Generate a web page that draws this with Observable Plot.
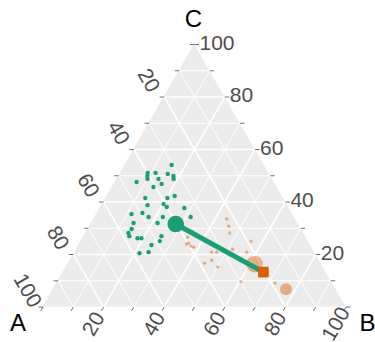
<!DOCTYPE html>
<html><head><meta charset="utf-8">
<script src="https://cdn.jsdelivr.net/npm/d3@7"></script>
<script src="https://cdn.jsdelivr.net/npm/@observablehq/plot@0.6"></script>
<style>body{margin:0;background:#fff}</style>
</head><body><div id="chart"></div>
<script>
// ---- data (percent compositions A, B, C) ----
const axisNames = ["A", "B", "C"];
const gridMinor = [10, 30, 50, 70, 90];
const gridMajor = [20, 40, 60, 80];
const tickValues = [0, 10, 20, 30, 40, 50, 60, 70, 80, 90, 100];
const tickLabels = [20, 40, 60, 80, 100];

const greenA = [30.5,39.9,40.6,41.1,37.3,33.5,32.0,32.5,37.5,45.3,37.4,40.7,45.5,35.4,38.2,46.1,40.6,40.1,34.5,34.1,49.3,53.1,48.0,43.3,54.1,46.2,55.9,57.7,58.0,55.7,54.4,47.4,48.9,52.4,54.7,57.9];
const greenB = [15.4,9.0,9.5,10.1,11.6,15.8,18.1,18.7,13.7,7.1,15.7,13.6,13.0,22.3,20.3,15.1,20.2,21.8,27.8,31.6,14.9,11.5,17.7,22.4,13.9,21.8,14.4,14.1,15.0,18.1,19.4,25.6,26.0,24.0,24.4,21.6];
const greenC = [54.1,51.1,49.9,48.8,51.1,50.7,49.9,48.8,48.8,47.6,46.9,45.7,41.5,42.3,41.5,38.8,39.2,38.1,37.7,34.3,35.8,35.4,34.3,34.3,32.0,32.0,29.7,28.2,27.0,26.2,26.2,27.0,25.1,23.6,20.9,20.5];

const orangeA = [22.6,23.3,24.3,18.8,39.0,40.6,39.8,39.7,38.9,32.6,26.4,22.3,33.9,32.2,35.4,38.3,34.7,29.9,18.9];
const orangeB = [43.9,45.9,47.5,56.1,34.4,35.4,35.9,37.1,38.3,42.7,51.6,56.8,45.2,46.9,46.8,45.0,50.1,60.5,72.0];
const orangeC = [33.5,30.8,28.2,25.1,26.6,24.0,24.3,23.2,22.8,24.7,22.0,20.9,20.9,20.9,17.8,16.7,15.2,9.6,9.1];

const orangeBigA = [22.0];
const orangeBigB = [61.7];
const orangeBigC = [16.3];
const orangeMidA = [16.4];
const orangeMidB = [76.8];
const orangeMidC = [6.8];

const greenCentre = [40.4, 28.0, 31.6];
const orangeCentre = [20.6, 66.1, 13.3];

// ---- ternary projection ----
const H = Math.sqrt(3) / 2;
function proj(a, b, c) { const s = a + b + c; return {x: (b + c / 2) / s, y: (c / s) * H}; }

const tri = [proj(100,0,0), proj(0,0,100), proj(0,100,0)];

function gridLines(vals) {
  const out = [];
  for (const v of vals) {
    const p = [
      [proj(v, 100 - v, 0), proj(v, 0, 100 - v)],
      [proj(100 - v, v, 0), proj(0, v, 100 - v)],
      [proj(100 - v, 0, v), proj(0, 100 - v, v)]
    ];
    for (const [s, e] of p) out.push({x1: s.x, y1: s.y, x2: e.x, y2: e.y});
  }
  return out;
}

const L = 4.5 / 303;
const ticks = [];
for (const v of tickValues) {
  const pa = proj(v, 0, 100 - v);
  ticks.push({x1: pa.x, y1: pa.y, x2: pa.x - L, y2: pa.y});
  const pb = proj(100 - v, v, 0);
  ticks.push({x1: pb.x, y1: pb.y, x2: pb.x - 0.5 * L, y2: pb.y - H * L});
  const pc = proj(0, 100 - v, v);
  ticks.push({x1: pc.x, y1: pc.y, x2: pc.x + L, y2: pc.y});
}
const labA = tickLabels.map(v => ({...proj(v, 0, 100 - v), t: String(v)}));
const labB = tickLabels.map(v => ({...proj(100 - v, v, 0), t: String(v)}));
const labC = tickLabels.map(v => ({...proj(0, 100 - v, v), t: String(v)}));

const green = greenA.map((a, i) => proj(a, greenB[i], greenC[i]));
const orange = orangeA.map((a, i) => proj(a, orangeB[i], orangeC[i]));
const orangeBig = orangeBigA.map((a, i) => proj(a, orangeBigB[i], orangeBigC[i]));
const orangeMid = orangeMidA.map((a, i) => proj(a, orangeMidB[i], orangeMidC[i]));
const gc = proj(...greenCentre);
const oc = proj(...orangeCentre);

const GREEN = "#1B9E77", ORANGE = "#D95F02", TXT = "#4D4D4D";

const chart = Plot.plot({
  width: 375, height: 342,
  marginLeft: 42.5, marginRight: 29.5, marginTop: 44, marginBottom: 35.5,
  x: {domain: [0, 1], axis: null},
  y: {domain: [0, H], axis: null},
  style: {fontFamily: "'Liberation Sans', Arial, sans-serif", background: "white", overflow: "visible"},
  marks: [
    Plot.areaY(tri, {x: "x", y: "y", fill: "#EBEBEB"}),
    Plot.link(gridLines(gridMinor), {x1: "x1", y1: "y1", x2: "x2", y2: "y2", stroke: "white", strokeWidth: 1}),
    Plot.link(gridLines(gridMajor), {x1: "x1", y1: "y1", x2: "x2", y2: "y2", stroke: "white", strokeWidth: 1.6}),
    Plot.link(ticks, {x1: "x1", y1: "y1", x2: "x2", y2: "y2", stroke: "#333", strokeWidth: 0.7}),
    Plot.text(labA, {x: "x", y: "y", text: "t", rotate: 60, dx: -15.5, dy: -16.5, fontSize: 21, fill: TXT}),
    Plot.text(labB, {x: "x", y: "y", text: "t", rotate: -60, dx: -10, dy: 17, fontSize: 21, fill: TXT}),
    Plot.text(labC, {x: "x", y: "y", text: "t", textAnchor: "start", dx: 5, dy: -1.5, fontSize: 21, fill: TXT}),
    Plot.text([proj(100,0,0)], {x: "x", y: "y", text: () => axisNames[0], dx: -25, dy: 16.5, fontSize: 24, fill: "black"}),
    Plot.text([proj(0,100,0)], {x: "x", y: "y", text: () => axisNames[1], dx: 21.5, dy: 16.5, fontSize: 24, fill: "black"}),
    Plot.text([proj(0,0,100)], {x: "x", y: "y", text: () => axisNames[2], dx: -1, dy: -25, fontSize: 24, fill: "black"}),
    Plot.dot(orange, {x: "x", y: "y", r: 1.7, fill: ORANGE, fillOpacity: 0.45}),
    Plot.dot(orangeBig, {x: "x", y: "y", r: 8.3, fill: ORANGE, fillOpacity: 0.45}),
    Plot.dot(orangeMid, {x: "x", y: "y", r: 6, fill: ORANGE, fillOpacity: 0.45}),
    Plot.dot(green, {x: "x", y: "y", r: 2.2, fill: GREEN}),
    Plot.link([{x1: gc.x, y1: gc.y, x2: oc.x, y2: oc.y}], {x1: "x1", y1: "y1", x2: "x2", y2: "y2", stroke: GREEN, strokeWidth: 5}),
    Plot.dot([oc], {x: "x", y: "y", r: 6, symbol: "square", fill: ORANGE}),
    Plot.dot([gc], {x: "x", y: "y", r: 8.3, fill: GREEN})
  ]
});
document.getElementById("chart").appendChild(chart);
</script>
</body></html>
